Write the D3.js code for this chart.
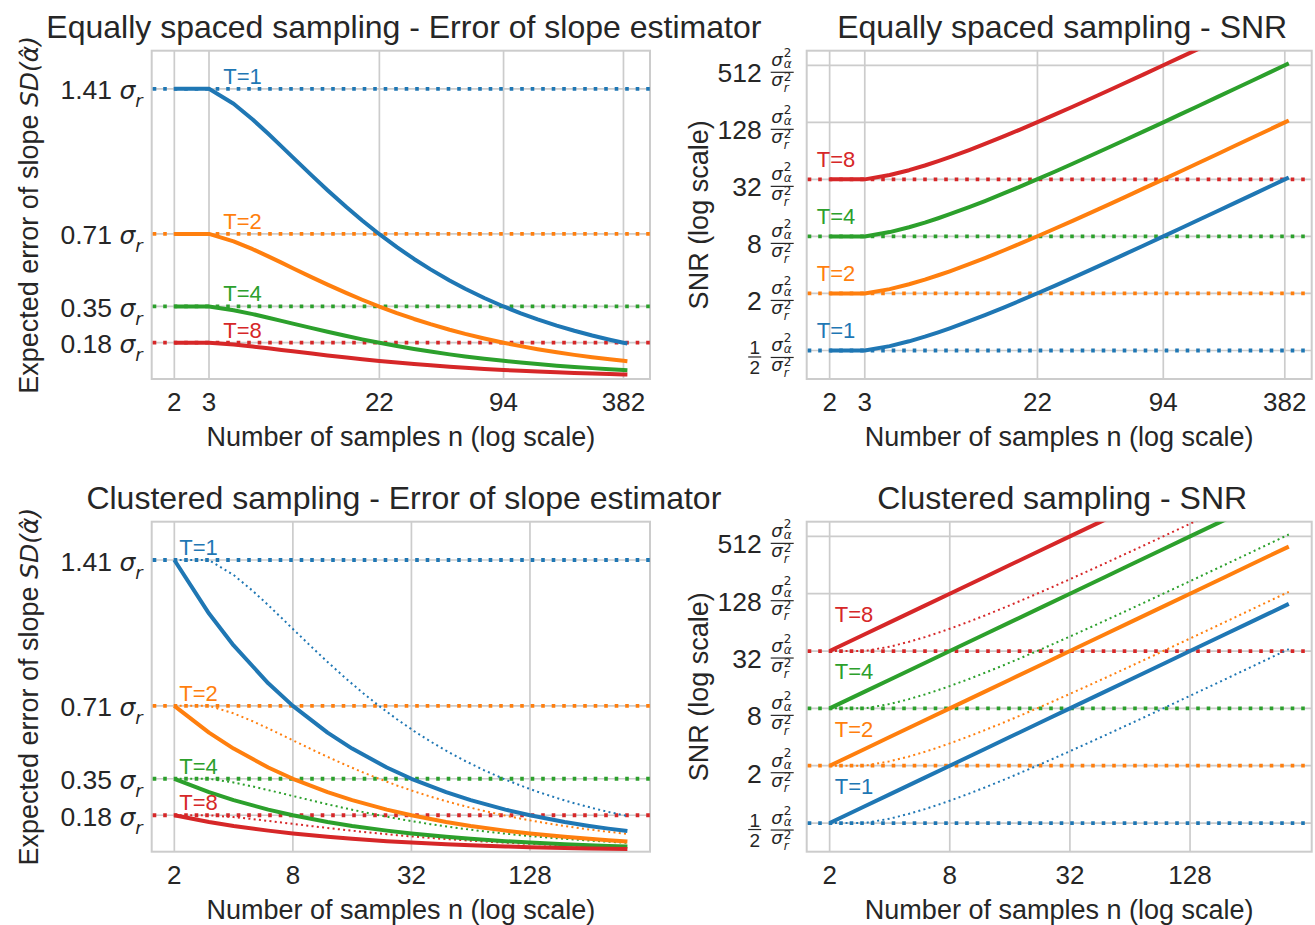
<!DOCTYPE html>
<html><head><meta charset="utf-8">
<script src="https://cdn.jsdelivr.net/npm/d3@7"></script>
<style>
body{margin:0;background:#fff}
svg{display:block}
text{font-family:"Liberation Sans",Arial,sans-serif;fill:#262626}
.m{font-family:"DejaVu Sans",sans-serif;font-style:oblique}
.mu{font-family:"DejaVu Sans",sans-serif}
</style>
</head><body>
<svg id="chart" width="1315" height="925"></svg>
<script>
// ---------------- data ----------------
const T_LABELS = ["T=1", "T=2", "T=4", "T=8"];
const COLORS = ["#1f77b4", "#ff7f0e", "#2ca02c", "#d62728"];

const EQ_X_TICKS = [2, 3, 22, 94, 382];
const CL_X_TICKS = [2, 8, 32, 128];
const SD_TICK_VALUES = [1.4142, 0.7071, 0.3536, 0.1768];
const SD_TICK_LABELS = ["1.41", "0.71", "0.35", "0.18"];
const SNR_TICK_VALUES = [0.5, 2, 8, 32, 128, 512];
const SNR_TICK_LABELS = ["1/2", "2", "8", "32", "128", "512"];
const SD_REF = [1.4142, 0.7071, 0.3536, 0.1768];
const SNR_REF = [0.5, 2, 8, 32];

// equally spaced sampling
const EQ_N = [2,3,4,5,6,7,8,10,12,15,18,22,27,33,40,50,60,75,94,115,140,175,215,265,325,382,400];
const EQ_SD_T1 = [1.4142,1.4142,1.3416,1.2649,1.1952,1.1339,1.0801,0.9909,0.9199,0.8367,0.7723,0.7057,0.6424,0.5850,0.5342,0.4802,0.4398,0.3947,0.3535,0.3202,0.2907,0.2604,0.2352,0.2120,0.1916,0.1768,0.1728];
const EQ_SD_T2 = [0.7071,0.7071,0.6708,0.6325,0.5976,0.5670,0.5401,0.4955,0.4600,0.4184,0.3862,0.3529,0.3212,0.2925,0.2671,0.2401,0.2199,0.1974,0.1768,0.1601,0.1454,0.1302,0.1176,0.1060,0.0958,0.0884,0.0864];
const EQ_SD_T4 = [0.3536,0.3536,0.3354,0.3162,0.2988,0.2835,0.2700,0.2477,0.2300,0.2092,0.1931,0.1764,0.1606,0.1463,0.1336,0.1201,0.1100,0.0987,0.0884,0.0801,0.0727,0.0651,0.0588,0.0530,0.0479,0.0442,0.0432];
const EQ_SD_T8 = [0.1768,0.1768,0.1677,0.1581,0.1494,0.1417,0.1350,0.1239,0.1150,0.1046,0.0965,0.0882,0.0803,0.0731,0.0668,0.0600,0.0550,0.0493,0.0442,0.0400,0.0363,0.0326,0.0294,0.0265,0.0240,0.0221,0.0216];
const EQ_SNR_T1 = [0.5,0.5,0.5556,0.625,0.7,0.7778,0.8571,1.0185,1.1818,1.4286,1.6765,2.0079,2.4231,2.9219,3.5043,4.3367,5.1695,6.4189,8.0018,9.7515,11.8345,14.751,18.0841,22.2506,27.2505,32.0004,33.5004];
const EQ_SNR_T2 = [2,2,2.2222,2.5,2.8,3.1111,3.4286,4.0741,4.7273,5.7143,6.7059,8.0317,9.6923,11.6875,14.0171,17.3469,20.678,25.6757,32.0072,39.0058,47.3381,59.0038,72.3364,89.0025,109.002,128.0018,134.0017];
const EQ_SNR_T4 = [8,8,8.8889,10,11.2,12.4444,13.7143,16.2963,18.9091,22.8571,26.8235,32.127,38.7692,46.75,56.0684,69.3878,82.7119,102.7027,128.0287,156.0234,189.3525,236.0153,289.3458,356.0101,436.0082,512.007,536.0067];
const EQ_SNR_T8 = [32,32,35.5556,40,44.8,49.7778,54.8571,65.1852,75.6364,91.4286,107.2941,128.5079,155.0769,187,224.2735,277.551,330.8475,410.8108,512.1147,624.0936,757.41,944.0613,1157.3832,1424.0404,1744.0327,2048.0282,2144.0269];

// clustered sampling
const CL_N = [2,3,4,6,8,12,16,24,32,48,64,96,128,192,256,320,400];
const CL_SD_T1 = [1.4142,1.1547,1.0,0.8165,0.7071,0.5774,0.5,0.4082,0.3536,0.2887,0.25,0.2041,0.1768,0.1443,0.125,0.1118,0.1];
const CL_SD_T2 = [0.7071,0.5774,0.5,0.4082,0.3536,0.2887,0.25,0.2041,0.1768,0.1443,0.125,0.1021,0.0884,0.0722,0.0625,0.0559,0.05];
const CL_SD_T4 = [0.3536,0.2887,0.25,0.2041,0.1768,0.1443,0.125,0.1021,0.0884,0.0722,0.0625,0.0510,0.0442,0.0361,0.0313,0.0280,0.025];
const CL_SD_T8 = [0.1768,0.1443,0.125,0.1021,0.0884,0.0722,0.0625,0.0510,0.0442,0.0361,0.0313,0.0255,0.0221,0.0180,0.0156,0.0140,0.0125];
const CL_SNR_T1 = [0.5,0.75,1,1.5,2,3,4,6,8,12,16,24,32,48,64,80,100];
const CL_SNR_T2 = [2,3,4,6,8,12,16,24,32,48,64,96,128,192,256,320,400];
const CL_SNR_T4 = [8,12,16,24,32,48,64,96,128,192,256,384,512,768,1024,1280,1600];
const CL_SNR_T8 = [32,48,64,96,128,192,256,384,512,768,1024,1536,2048,3072,4096,5120,6400];

// ---------------- drawing ----------------
const svg = d3.select("#chart");
svg.append("rect").attr("width", 1315).attr("height", 925).attr("fill", "#fff");
const GRID = "#cccccc";
const TXT = "#262626";

const panels = [
  { x0: 151.7, x1: 650, y0: 50.7, y1: 379, kind: "sd",
    title: "Equally spaced sampling - Error of slope estimator",
    xTicks: EQ_X_TICKS, solidN: EQ_N, solid: [EQ_SD_T1, EQ_SD_T2, EQ_SD_T4, EQ_SD_T8],
    dottedN: null, dotted: null, lab: { dx: 71.5, dy: -5 } },
  { x0: 806.7, x1: 1311.7, y0: 50.7, y1: 379, kind: "snr",
    title: "Equally spaced sampling - SNR",
    xTicks: EQ_X_TICKS, solidN: EQ_N, solid: [EQ_SNR_T1, EQ_SNR_T2, EQ_SNR_T4, EQ_SNR_T8],
    dottedN: null, dotted: null, lab: { dx: 10, dy: -12 } },
  { x0: 151.7, x1: 650, y0: 521.7, y1: 851.7, kind: "sd",
    title: "Clustered sampling - Error of slope estimator",
    xTicks: CL_X_TICKS, solidN: CL_N, solid: [CL_SD_T1, CL_SD_T2, CL_SD_T4, CL_SD_T8],
    dottedN: EQ_N, dotted: [EQ_SD_T1, EQ_SD_T2, EQ_SD_T4, EQ_SD_T8], lab: { dx: 27.5, dy: -5 } },
  { x0: 806.7, x1: 1311.7, y0: 521.7, y1: 851.7, kind: "snr",
    title: "Clustered sampling - SNR",
    xTicks: CL_X_TICKS, solidN: CL_N, solid: [CL_SNR_T1, CL_SNR_T2, CL_SNR_T4, CL_SNR_T8],
    dottedN: EQ_N, dotted: [EQ_SNR_T1, EQ_SNR_T2, EQ_SNR_T4, EQ_SNR_T8], lab: { dx: 28, dy: -29 } }
];

panels.forEach((p, pi) => {
  const x = d3.scaleLog().domain([1.535, 521]).range([p.x0, p.x1]);
  const y = p.kind === "sd"
    ? d3.scaleLinear().domain([0, 1.6]).range([p.y1, p.y0])
    : d3.scaleLog().domain([0.25, 730]).range([p.y1, p.y0]);
  const g = svg.append("g");
  const clipId = "clip" + pi;
  svg.append("clipPath").attr("id", clipId).append("rect")
    .attr("x", p.x0).attr("y", p.y0).attr("width", p.x1 - p.x0).attr("height", p.y1 - p.y0);

  const tickVals = p.kind === "sd" ? SD_TICK_VALUES : SNR_TICK_VALUES;
  // grid
  g.selectAll(".vg").data(p.xTicks).enter().append("line")
    .attr("x1", d => x(d)).attr("x2", d => x(d)).attr("y1", p.y0).attr("y2", p.y1)
    .attr("stroke", GRID).attr("stroke-width", 1.7);
  g.selectAll(".hg").data(tickVals).enter().append("line")
    .attr("x1", p.x0).attr("x2", p.x1).attr("y1", d => y(d)).attr("y2", d => y(d))
    .attr("stroke", GRID).attr("stroke-width", 1.7);
  // frame
  g.append("rect").attr("x", p.x0).attr("y", p.y0).attr("width", p.x1 - p.x0).attr("height", p.y1 - p.y0)
    .attr("fill", "none").attr("stroke", GRID).attr("stroke-width", 2);

  const plot = g.append("g").attr("clip-path", `url(#${clipId})`);
  const refs = p.kind === "sd" ? SD_REF : SNR_REF;
  // reference dotted lines
  refs.forEach((v, i) => {
    plot.append("line").attr("x1", p.x0 + 1).attr("x2", p.x1).attr("y1", y(v)).attr("y2", y(v))
      .attr("stroke", COLORS[i]).attr("stroke-width", 3.8).attr("stroke-dasharray", "3.6 6.9");
  });
  const line = d3.line().x(d => x(d[0])).y(d => y(d[1]));
  // thin dotted comparison curves
  if (p.dotted) {
    p.dotted.forEach((vals, i) => {
      plot.append("path").datum(p.dottedN.map((n, k) => [n, vals[k]]))
        .attr("d", line).attr("fill", "none").attr("stroke", COLORS[i])
        .attr("stroke-width", 2).attr("stroke-dasharray", "2 3.3");
    });
  }
  // solid curves
  p.solid.forEach((vals, i) => {
    plot.append("path").datum(p.solidN.map((n, k) => [n, vals[k]]))
      .attr("d", line).attr("fill", "none").attr("stroke", COLORS[i])
      .attr("stroke-width", 4).attr("stroke-linejoin", "round");
  });
  // T labels
  refs.forEach((v, i) => {
    g.append("text").attr("x", p.x0 + p.lab.dx).attr("y", y(v) + p.lab.dy)
      .attr("font-size", 22).style("fill", COLORS[i]).text(T_LABELS[i]);
  });

  // x tick labels
  g.selectAll(".xt").data(p.xTicks).enter().append("text")
    .attr("x", d => x(d)).attr("y", p.y1 + 32).attr("text-anchor", "middle")
    .attr("font-size", 26).text(d => String(d));
  // x label
  g.append("text").attr("x", (p.x0 + p.x1) / 2).attr("y", p.y1 + 67).attr("text-anchor", "middle")
    .attr("font-size", 27).text("Number of samples n (log scale)");
  // title
  g.append("text").attr("x", (p.x0 + p.x1) / 2 + 3).attr("y", p.y0 - 12.7).attr("text-anchor", "middle")
    .attr("font-size", 32).text(p.title);

  const cy = (p.y0 + p.y1) / 2;
  if (p.kind === "sd") {
    // y tick labels
    SD_TICK_VALUES.forEach((v, i) => {
      const t = g.append("text").attr("x", p.x0 - 9).attr("y", y(v) + 10.5)
        .attr("text-anchor", "end").attr("font-size", 26.5);
      t.append("tspan").text(SD_TICK_LABELS[i] + " ");
      t.append("tspan").attr("class", "m").attr("font-size", 25).text("σ");
      t.append("tspan").attr("class", "m").attr("font-size", 18).attr("dy", 8).text("r");
    });
    const yl = g.append("text").attr("transform", `translate(38,${cy}) rotate(-90)`)
      .attr("text-anchor", "middle").attr("font-size", 27);
    yl.append("tspan").text("Expected error of slope ");
    yl.append("tspan").attr("class", "m").attr("font-size", 25).text("SD(α\u0302)");
  } else {
    const fx = p.x0 - 36;
    SNR_TICK_VALUES.forEach((v, i) => {
      const ty = y(v);
      const lg = g.append("g").attr("transform", `translate(${fx},${ty})`);
      lg.append("line").attr("x1", 0).attr("x2", 23).attr("y1", 7).attr("y2", 7)
        .attr("stroke", TXT).attr("stroke-width", 1.2);
      // whole fraction as one text element (absolute tspans)
      const fr = lg.append("text").attr("font-size", 18);
      fr.append("tspan").attr("class", "m").attr("x", 0.5).attr("y", 1).text("σ");
      fr.append("tspan").attr("class", "mu").attr("x", 13).attr("y", -8.5).attr("font-size", 12).text("2");
      fr.append("tspan").attr("class", "m").attr("x", 13).attr("y", 3).attr("font-size", 12).text("α");
      fr.append("tspan").attr("class", "m").attr("x", 0.5).attr("y", 21).text("σ");
      fr.append("tspan").attr("class", "mu").attr("x", 13).attr("y", 15.5).attr("font-size", 12).text("2");
      fr.append("tspan").attr("class", "m").attr("x", 13).attr("y", 26.5).attr("font-size", 12).text("r");
      const lab = SNR_TICK_LABELS[i];
      if (lab.indexOf("/") > 0) {
        const parts = lab.split("/");
        const hf = lg.append("text").attr("font-size", 19).attr("text-anchor", "middle");
        hf.append("tspan").attr("x", -16).attr("y", 3.5).text(parts[0]);
        hf.append("tspan").attr("x", -16).attr("y", 23.5).text(parts[1]);
        lg.append("line").attr("x1", -22.5).attr("x2", -9.5).attr("y1", 6.5).attr("y2", 6.5)
          .attr("stroke", TXT).attr("stroke-width", 1.2);
      } else {
        lg.append("text").attr("x", -9).attr("y", 17).attr("text-anchor", "end").attr("font-size", 26.5).text(lab);
      }
    });
    g.append("text").attr("transform", `translate(708,${cy}) rotate(-90)`)
      .attr("text-anchor", "middle").attr("font-size", 27).text("SNR (log scale)");
  }
});
</script>
</body></html>
